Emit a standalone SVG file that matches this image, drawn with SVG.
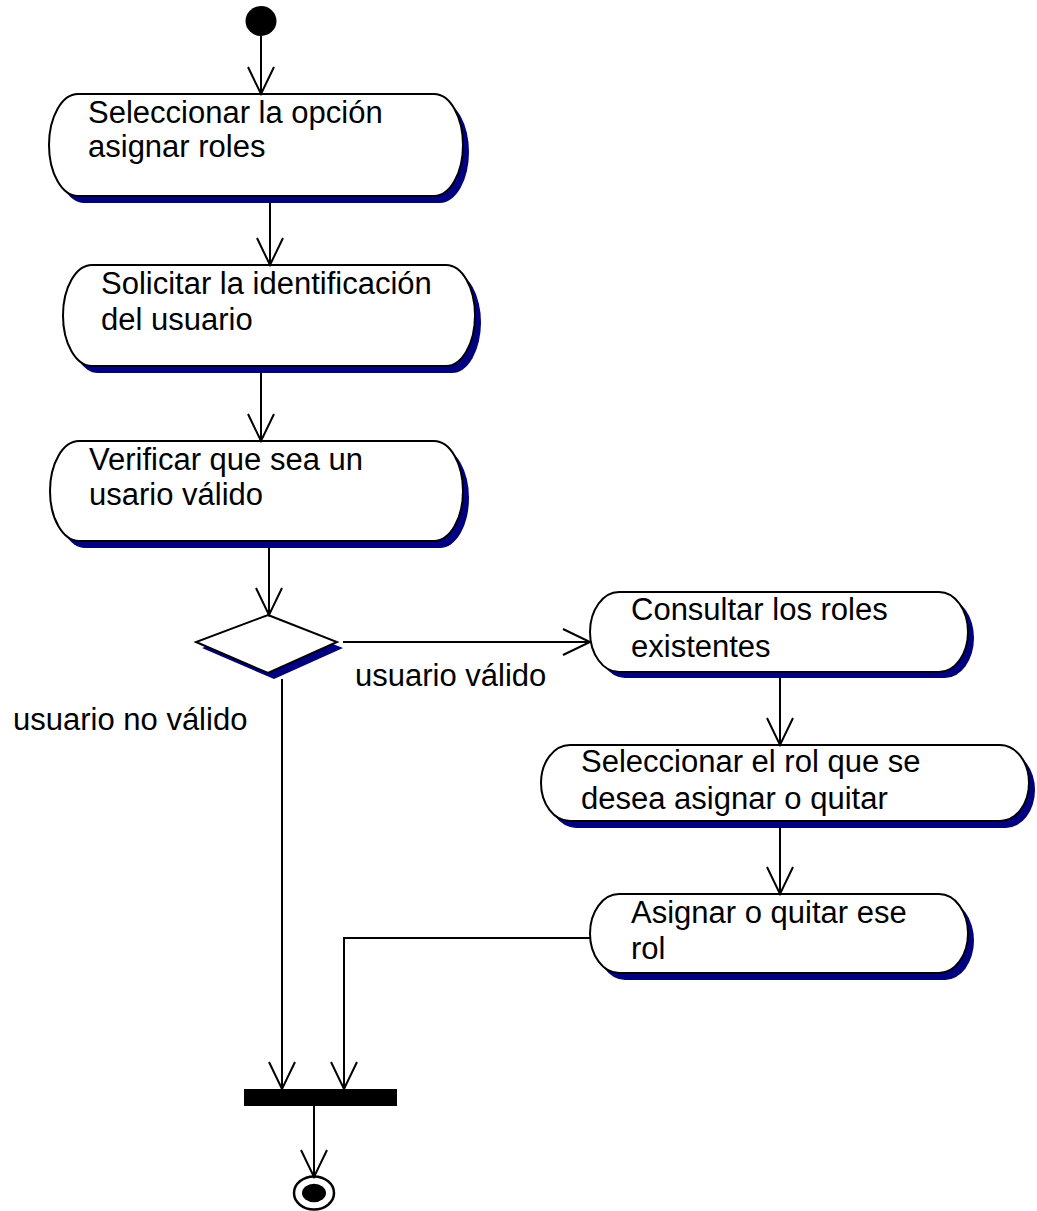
<svg xmlns="http://www.w3.org/2000/svg" width="1037" height="1211" viewBox="0 0 1037 1211">
<style>
.sh{fill:#000080;stroke:none}
.nd{fill:#fff;stroke:#000;stroke-width:2}
.t{font-family:"Liberation Sans",Arial,sans-serif;font-size:31px;fill:#000}
.c{fill:none;stroke:#000;stroke-width:2}
</style>
<defs>
<marker id="arr" markerUnits="userSpaceOnUse" markerWidth="32" markerHeight="30" viewBox="-29 -15 32 30" refX="0" refY="0" orient="auto" overflow="visible">
<path d="M-27,-13 L0,0 L-27,13" fill="none" stroke="#000" stroke-width="2"/>
</marker>
</defs>
<rect width="1037" height="1211" fill="#fff"/>
<g id="start"><ellipse cx="261" cy="21" rx="15.5" ry="15" fill="#000"/></g>
<g id="n1">
<path class="sh" transform="translate(6,7)" d="M78,94 L434,94 A29,51 0 0 1 434,196 L78,196 A29,51 0 0 1 78,94 Z"/>
<path class="nd" d="M78,94 L434,94 A29,51 0 0 1 434,196 L78,196 A29,51 0 0 1 78,94 Z"/>
<text class="t" x="88" y="123">Seleccionar la opción</text>
<text class="t" x="88" y="157">asignar roles</text>
</g>
<g id="n2">
<path class="sh" transform="translate(6,7)" d="M92,265 L446,265 A29,50.5 0 0 1 446,366 L92,366 A29,50.5 0 0 1 92,265 Z"/>
<path class="nd" d="M92,265 L446,265 A29,50.5 0 0 1 446,366 L92,366 A29,50.5 0 0 1 92,265 Z"/>
<text class="t" x="101" y="294">Solicitar la identificación</text>
<text class="t" x="101" y="330">del usuario</text>
</g>
<g id="n3">
<path class="sh" transform="translate(6,7)" d="M79,441 L434,441 A29,50 0 0 1 434,541 L79,541 A29,50 0 0 1 79,441 Z"/>
<path class="nd" d="M79,441 L434,441 A29,50 0 0 1 434,541 L79,541 A29,50 0 0 1 79,441 Z"/>
<text class="t" x="89" y="470">Verificar que sea un</text>
<text class="t" x="89" y="505">usario válido</text>
</g>
<g id="decision">
<polygon class="sh" transform="translate(6,6)" points="268,615 337,642 268,673 196,642"/>
<polygon class="nd" points="268,615 337,642 268,673 196,642"/>
</g>
<g id="n4">
<path class="sh" transform="translate(6,6)" d="M619,592 L939,592 A29,40 0 0 1 939,672 L619,672 A29,40 0 0 1 619,592 Z"/>
<path class="nd" d="M619,592 L939,592 A29,40 0 0 1 939,672 L619,672 A29,40 0 0 1 619,592 Z"/>
<text class="t" x="631" y="620">Consultar los roles</text>
<text class="t" x="631" y="657">existentes</text>
</g>
<g id="n5">
<path class="sh" transform="translate(6,7)" d="M570,745 L1000,745 A29,38 0 0 1 1000,821 L570,821 A29,38 0 0 1 570,745 Z"/>
<path class="nd" d="M570,745 L1000,745 A29,38 0 0 1 1000,821 L570,821 A29,38 0 0 1 570,745 Z"/>
<text class="t" x="581" y="772">Seleccionar el rol que se</text>
<text class="t" x="581" y="809">desea asignar o quitar</text>
</g>
<g id="n6">
<path class="sh" transform="translate(6,7)" d="M619,894 L939,894 A29,39.5 0 0 1 939,973 L619,973 A29,39.5 0 0 1 619,894 Z"/>
<path class="nd" d="M619,894 L939,894 A29,39.5 0 0 1 939,973 L619,973 A29,39.5 0 0 1 619,894 Z"/>
<text class="t" x="631" y="923">Asignar o quitar ese</text>
<text class="t" x="631" y="959">rol</text>
</g>
<g id="join"><rect x="244" y="1089" width="153" height="17" fill="#000"/></g>
<g id="end">
<ellipse cx="314" cy="1193" rx="20" ry="16.5" fill="#fff" stroke="#000" stroke-width="2.5"/>
<ellipse cx="314" cy="1193" rx="12" ry="9.2" fill="#000"/>
</g>
<g id="connectors">
<path class="c" d="M261,36 L261,94" marker-end="url(#arr)"/>
<path class="c" d="M270,203 L270,265" marker-end="url(#arr)"/>
<path class="c" d="M261,373 L261,441" marker-end="url(#arr)"/>
<path class="c" d="M269,548 L269,615" marker-end="url(#arr)"/>
<path class="c" d="M343,642 L590,642" marker-end="url(#arr)"/>
<path class="c" d="M282,679 L282,1089" marker-end="url(#arr)"/>
<path class="c" d="M780,678 L780,745" marker-end="url(#arr)"/>
<path class="c" d="M780,828 L780,894" marker-end="url(#arr)"/>
<path class="c" d="M590,938 L344,938 L344,1089" marker-end="url(#arr)"/>
<path class="c" d="M314,1106 L314,1177" marker-end="url(#arr)"/>
<text class="t" x="355" y="686">usuario válido</text>
<text class="t" x="13" y="730">usuario no válido</text>
</g>
</svg>
